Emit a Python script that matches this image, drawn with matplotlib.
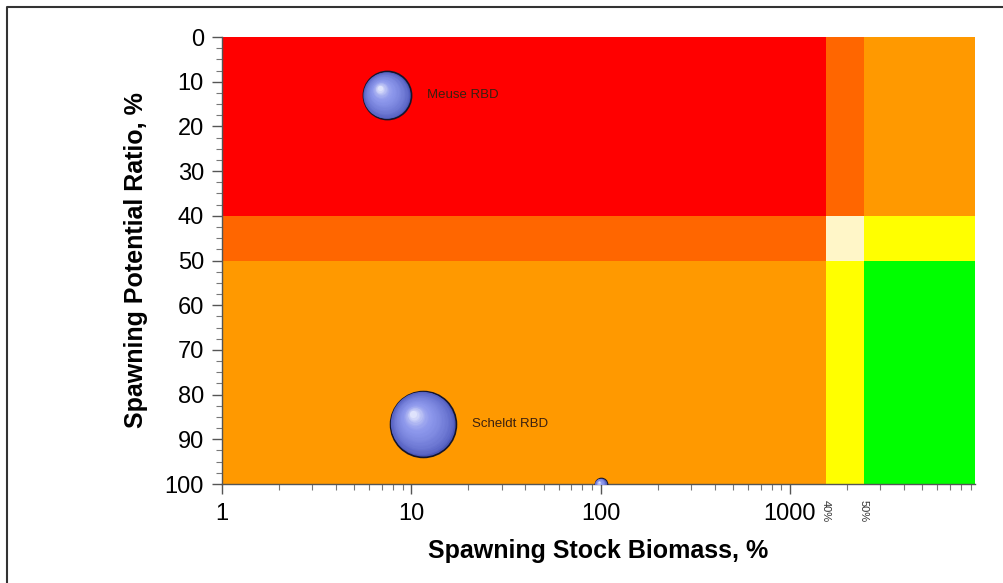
import matplotlib
matplotlib.use("Agg")
import matplotlib.pyplot as plt
import numpy as np
from matplotlib.colors import ListedColormap, to_rgb
from matplotlib.lines import Line2D
from matplotlib.ticker import MultipleLocator, LogLocator, NullFormatter
import matplotlib.transforms as mtransforms

plt.rcParams['font.family'] = ['Liberation Sans', 'DejaVu Sans']

# zone boundaries (x is log scale, y inverted)
x_edges = [1, 1550, 2450, 9500]
y_edges = [0, 40, 50, 100]
zone_colors = ['#FF0000', '#FF6600', '#FF9900', '#FFF6C8', '#FFFF00', '#00FF00']
zone_index = np.array([[0, 1, 2],
                       [1, 3, 4],
                       [2, 4, 5]])
boundary_labels = ['40%', '50%']

# river basin districts
rbd_names = ['Meuse RBD', 'Scheldt RBD', '']
rbd_ssb = [7.4, 11.5, 100]
rbd_spr = [13, 86.5, 100]
rbd_size = [1200, 2250, 75]

fig = plt.figure(figsize=(10.04, 5.83), dpi=100)
ax = fig.add_axes([0.2211, 0.1698, 0.7500, 0.7667])

cmap = ListedColormap(zone_colors)
ax.pcolormesh(x_edges, y_edges, zone_index, cmap=cmap, vmin=-0.5, vmax=5.5,
              shading='flat', zorder=0)

ax.set_xscale('log')
ax.set_xlim(x_edges[0], x_edges[-1])
ax.set_ylim(100, 0)

# shaded spheres: dark rim, then many lighter discs shifted to the upper left
rim = np.array(to_rgb('#4a55b8'))
mid = np.array(to_rgb('#8d98ec'))
hi = np.array(to_rgb('#eef0ff'))
n_layers = 24
for x, y, s in zip(rbd_ssb, rbd_spr, rbd_size):
    r_pt = np.sqrt(s) / 2
    ax.scatter([x], [y], s=s, color=rim, edgecolors='#15152a',
               linewidths=1.2, zorder=3)
    for i in range(1, n_layers):
        t = i / n_layers
        frac = 1 - 0.93 * t
        if t < 0.6:
            col = rim + (mid - rim) * (t / 0.6) ** 0.6
        else:
            col = mid + (hi - mid) * ((t - 0.6) / 0.4) ** 1.5
        off = 0.3 * t
        tr = mtransforms.offset_copy(ax.transData, fig=fig,
                                     x=-off * r_pt, y=off * r_pt, units='points')
        ax.scatter([x], [y], s=s * frac ** 2, color=col, linewidths=0,
                   transform=tr, zorder=4)

for name, x, y, s in zip(rbd_names, rbd_ssb, rbd_spr, rbd_size):
    if name:
        ax.annotate(name, (x, y), xytext=(np.sqrt(s) / 2 + 12, 0),
                    textcoords='offset points', va='center', ha='left',
                    fontsize=9.5, color='#3a2010', zorder=5)

# ticks
ax.yaxis.set_major_locator(MultipleLocator(10))
ax.yaxis.set_minor_locator(MultipleLocator(2.5))
ax.xaxis.set_minor_locator(LogLocator(base=10, subs=np.arange(2, 10), numticks=20))
ax.xaxis.set_minor_formatter(NullFormatter())
ax.set_xticks([1, 10, 100, 1000])
ax.set_xticklabels(['1', '10', '100', '1000'])
ax.tick_params(axis='both', which='major', labelsize=17, length=7,
               width=1, color='#555555', direction='out')
ax.tick_params(axis='both', which='minor', length=4, width=0.8,
               color='#777777', direction='out')
ax.tick_params(axis='x', pad=7)
ax.tick_params(axis='y', pad=6)

for side in ['top', 'right']:
    ax.spines[side].set_visible(False)
for side in ['left', 'bottom']:
    ax.spines[side].set_color('#555555')
    ax.spines[side].set_linewidth(1)

for xb, lab in zip(x_edges[1:3], boundary_labels):
    ax.text(xb, -0.035, lab, transform=ax.get_xaxis_transform(), rotation=-90,
            ha='center', va='top', fontsize=8, color='#333333')

ax.set_xlabel('Spawning Stock Biomass, %', fontsize=18, fontweight='bold',
              labelpad=10)
ax.set_ylabel('Spawning Potential Ratio, %', fontsize=18, fontweight='bold',
              labelpad=12)

# frame round the figure
fig.add_artist(Line2D([7 / 1004, 7 / 1004, 1.0], [0.0, 1 - 7 / 583, 1 - 7 / 583],
                      transform=fig.transFigure, color='#333333', linewidth=1.5))

fig.savefig('out.png', dpi=100)
